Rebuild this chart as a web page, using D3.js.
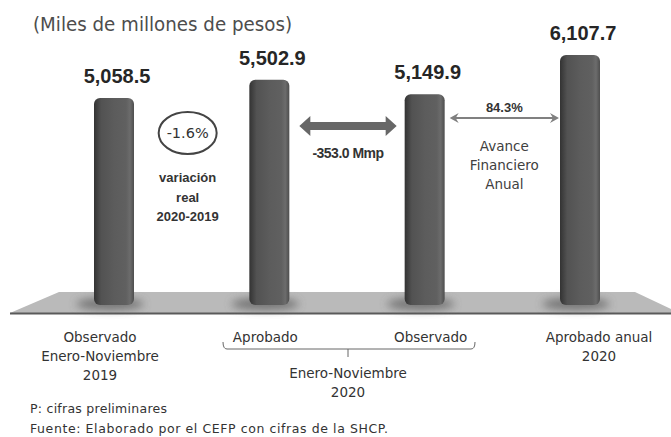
<!DOCTYPE html>
<html>
<head>
<meta charset="utf-8">
<script src="https://cdn.jsdelivr.net/npm/d3@7"></script>
<style>
  body { margin: 0; background: #fff; }
  svg { display: block; }
</style>
</head>
<body>
<div id="chart"></div>
<script>
// data
var categories = ["obs2019", "aprobado", "observado", "anual2020"];
var values = [5058.5, 5502.9, 5149.9, 6107.7];
var valueLabels = ["5,058.5", "5,502.9", "5,149.9", "6,107.7"];
var categoryLines = [
    ["Observado", "Enero-Noviembre", "2019"],
    ["Aprobado"],
    ["Observado"],
    ["Aprobado anual", "2020"]
];
var groupLines = ["Enero-Noviembre", "2020"];
var variacion = "-1.6%";
var variacionLines = ["variación", "real", "2020-2019"];
var diferencia = "-353.0 Mmp";
var avance = "84.3%";
var avanceLines = ["Avance", "Financiero", "Anual"];
var notes = ["P: cifras preliminares", "Fuente: Elaborado por el CEFP con cifras de la SHCP."];

var W = 671, H = 437;
var baseY = 305, barW = 40;
var gothic = "'DejaVu Sans', sans-serif";
var bold = "'Liberation Sans', Arial, sans-serif";

var svg = d3.select("#chart").append("svg")
    .attr("width", W).attr("height", H);

var defs = svg.append("defs");
var grad = defs.append("linearGradient").attr("id", "barGrad")
    .attr("x1", "0").attr("x2", "1").attr("y1", "0").attr("y2", "0");
[[0, "#333"], [0.18, "#525252"], [0.5, "#5c5c5c"], [0.8, "#606060"], [0.9, "#6c6c6c"], [1, "#4e4e4e"]]
    .forEach(function(s) {
        grad.append("stop").attr("offset", s[0]).attr("stop-color", s[1]);
    });
defs.append("filter").attr("id", "blur")
    .attr("x", "-50%").attr("y", "-100%").attr("width", "200%").attr("height", "300%")
    .append("feGaussianBlur").attr("stdDeviation", 4);

var x = d3.scalePoint().domain(categories).range([114, 580]);
var y = d3.scaleLinear().domain([0, 6107.7]).range([baseY, 55]);

// floor
svg.append("path")
    .attr("d", "M59,292 L635,292 L671,309 L671,313 L10,313 Z")
    .attr("fill", "#bababa");
svg.append("line")
    .attr("x1", 10).attr("x2", 671).attr("y1", 313.5).attr("y2", 313.5)
    .attr("stroke", "#5a5a5a").attr("stroke-width", 2);

// shadows at the foot of each bar
svg.selectAll("ellipse.shadow").data(values).enter()
    .append("ellipse").attr("class", "shadow")
    .attr("cx", function(d, i) { return x(categories[i]) - 4; })
    .attr("cy", baseY - 1)
    .attr("rx", barW * 0.85).attr("ry", 6)
    .attr("fill", "#555").attr("opacity", 0.7)
    .attr("filter", "url(#blur)");

// bars
svg.selectAll("rect.bar").data(values).enter()
    .append("rect").attr("class", "bar")
    .attr("x", function(d, i) { return x(categories[i]) - barW / 2; })
    .attr("y", function(d) { return y(d); })
    .attr("width", barW)
    .attr("height", function(d) { return baseY - y(d); })
    .attr("rx", 6).attr("ry", 6)
    .attr("fill", "url(#barGrad)");

// value labels
svg.selectAll("text.value").data(values).enter()
    .append("text").attr("class", "value")
    .attr("x", function(d, i) { return x(categories[i]) + 3; })
    .attr("y", function(d) { return y(d) - 15; })
    .attr("text-anchor", "middle")
    .style("font-family", bold).style("font-weight", "bold").style("font-size", "20px")
    .attr("fill", "#262626")
    .text(function(d, i) { return valueLabels[i]; });

// title
svg.append("text")
    .attr("x", 33).attr("y", 31)
    .attr("textLength", 259).attr("lengthAdjust", "spacingAndGlyphs")
    .style("font-family", gothic).style("font-size", "19px")
    .attr("fill", "#4d4d4d")
    .text("(Miles de millones de pesos)");

// variacion ellipse
var vx = (x(categories[0]) + x(categories[1])) / 2 - 4;
svg.append("ellipse")
    .attr("cx", vx).attr("cy", 133).attr("rx", 29).attr("ry", 21)
    .attr("fill", "none").attr("stroke", "#444").attr("stroke-width", 2);
svg.append("text")
    .attr("x", vx).attr("y", 138).attr("text-anchor", "middle")
    .style("font-family", gothic).style("font-size", "14.5px")
    .attr("fill", "#333").text(variacion);
svg.selectAll("text.var").data(variacionLines).enter()
    .append("text").attr("class", "var")
    .attr("x", vx).attr("y", function(d, i) { return 182 + i * 19.5; })
    .attr("text-anchor", "middle")
    .style("font-family", bold).style("font-weight", "bold").style("font-size", "13px")
    .attr("fill", "#333").text(function(d) { return d; });

// thick double arrow between aprobado and observado
var a1 = x(categories[1]) + barW / 2 + 10, a2 = x(categories[2]) - barW / 2 - 8, ay = 126;
svg.append("path")
    .attr("d", "M" + a1 + "," + ay + " l11,-10 l0,6 L" + (a2 - 11) + "," + (ay - 4) +
        " l0,-6 l11,10 l-11,10 l0,-6 L" + (a1 + 11) + "," + (ay + 4) + " l0,6 Z")
    .attr("fill", "#676767");
svg.append("text")
    .attr("x", (a1 + a2) / 2).attr("y", 158).attr("text-anchor", "middle")
    .style("font-family", bold).style("font-weight", "bold").style("font-size", "14px")
    .style("letter-spacing", "-0.5px")
    .attr("fill", "#333").text(diferencia);

// thin double arrow between observado and aprobado anual
var b1 = x(categories[2]) + barW / 2 + 5, b2 = x(categories[3]) - barW / 2 - 1, by = 118;
svg.append("line")
    .attr("x1", b1 + 4).attr("x2", b2 - 4).attr("y1", by).attr("y2", by)
    .attr("stroke", "#808080").attr("stroke-width", 2);
svg.append("path")
    .attr("d", "M" + b1 + "," + by + " l9,-5 l-3,5 l3,5 Z M" + b2 + "," + by + " l-9,-5 l3,5 l-3,5 Z")
    .attr("fill", "#808080");
var bx = (b1 + b2) / 2;
svg.append("text")
    .attr("x", bx).attr("y", 112).attr("text-anchor", "middle")
    .style("font-family", bold).style("font-weight", "bold").style("font-size", "13px")
    .attr("fill", "#333").text(avance);
svg.selectAll("text.avance").data(avanceLines).enter()
    .append("text").attr("class", "avance")
    .attr("x", bx).attr("y", function(d, i) { return 151 + i * 19; })
    .attr("text-anchor", "middle")
    .style("font-family", gothic).style("font-size", "13.5px")
    .attr("fill", "#404040").text(function(d) { return d; });

// category labels
var catOffset = [-14, -4, 6, 19];
categoryLines.forEach(function(lines, i) {
    svg.selectAll(null).data(lines).enter()
        .append("text")
        .attr("x", x(categories[i]) + catOffset[i])
        .attr("y", function(d, j) { return 342 + j * 19; })
        .attr("text-anchor", "middle")
        .style("font-family", gothic).style("font-size", "13.5px")
        .attr("fill", "#333").text(function(d) { return d; });
});

// bracket under Aprobado / Observado
var k1 = 223, k2 = 475, ky = 349, km = (k1 + k2) / 2 - 1;
svg.append("path")
    .attr("d", "M" + k1 + "," + (ky - 7) + " Q" + k1 + "," + ky + " " + (k1 + 4) + "," + ky +
        " L" + (k2 - 4) + "," + ky + " Q" + k2 + "," + ky + " " + k2 + "," + (ky - 7) +
        " M" + km + "," + ky + " L" + km + "," + (ky + 8))
    .attr("fill", "none").attr("stroke", "#666").attr("stroke-width", 1);
svg.selectAll("text.group").data(groupLines).enter()
    .append("text").attr("class", "group")
    .attr("x", km).attr("y", function(d, i) { return 378 + i * 19; })
    .attr("text-anchor", "middle")
    .style("font-family", gothic).style("font-size", "13.5px")
    .attr("fill", "#333").text(function(d) { return d; });

// notes
var noteWidths = [137, 358];
svg.selectAll("text.note").data(notes).enter()
    .append("text").attr("class", "note")
    .attr("x", 30).attr("y", function(d, i) { return 413 + i * 20; })
    .attr("textLength", function(d, i) { return noteWidths[i]; })
    .attr("lengthAdjust", "spacing")
    .style("font-family", gothic).style("font-size", "12.5px")
    .attr("fill", "#333").text(function(d) { return d; });
</script>
</body>
</html>
